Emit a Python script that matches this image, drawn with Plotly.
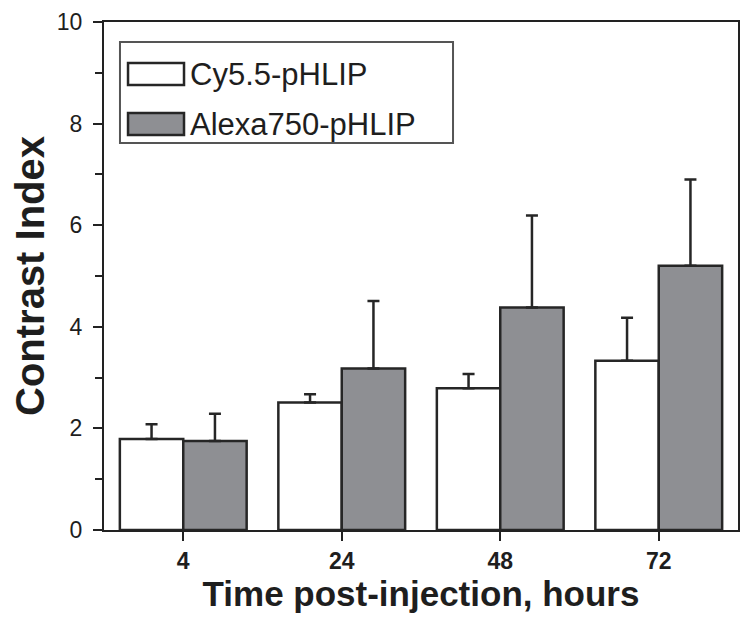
import plotly.graph_objects as go

categories = ["4", "24", "48", "72"]
series_names = ["Cy5.5-pHLIP", "Alexa750-pHLIP"]
cy55_values = [1.79, 2.51, 2.79, 3.33]
cy55_errors = [0.29, 0.16, 0.28, 0.85]
alexa_values = [1.75, 3.18, 4.38, 5.20]
alexa_errors = [0.54, 1.33, 1.81, 1.70]
y_tick_vals = [0, 2, 4, 6, 8, 10]
y_tick_text = ["0", "2", "4", "6", "8", "10"]

FONT = "Liberation Sans, Arial, sans-serif"
EDGE = "#262626"
TXT = "#1e1e1e"
WHITE_FILL = "white"
GRAY_FILL = "#8e8f93"

fig = go.Figure()
fig.add_trace(go.Bar(
    x=categories, y=cy55_values, name=series_names[0],
    marker=dict(color=WHITE_FILL, line=dict(color=EDGE, width=2.5)),
    error_y=dict(type="data", array=cy55_errors, symmetric=False,
                 arrayminus=[0] * len(cy55_errors),
                 color=EDGE, thickness=2.5, width=6),
    showlegend=False,
))
fig.add_trace(go.Bar(
    x=categories, y=alexa_values, name=series_names[1],
    marker=dict(color=GRAY_FILL, line=dict(color=EDGE, width=2.5)),
    error_y=dict(type="data", array=alexa_errors, symmetric=False,
                 arrayminus=[0] * len(alexa_errors),
                 color=EDGE, thickness=2.5, width=6),
    showlegend=False,
))

# Custom legend (box, swatches, labels) in plot-domain coordinates
fig.add_shape(type="rect", xref="x domain", yref="y domain",
              x0=0.0252, x1=0.5505, y0=0.7618, y1=0.9606,
              line=dict(color="#555", width=2), fillcolor="rgba(0,0,0,0)")
legend_rows = [(series_names[0], WHITE_FILL, 0.876, 0.9193, 0.8976),
               (series_names[1], GRAY_FILL, 0.7776, 0.8209, 0.7992)]
for name, fill, y0, y1, yc in legend_rows:
    fig.add_shape(type="rect", xref="x domain", yref="y domain",
                  x0=0.0379, x1=0.1262, y0=y0, y1=y1,
                  line=dict(color=EDGE, width=2.5), fillcolor=fill)
    fig.add_annotation(xref="x domain", yref="y domain", x=0.132, y=yc,
                       xanchor="left", yanchor="middle", showarrow=False,
                       text=name, font=dict(size=31, family=FONT, color=TXT))

fig.update_layout(
    width=743, height=625,
    margin=dict(l=96, r=13, t=14, b=103, autoexpand=False),
    paper_bgcolor="white", plot_bgcolor="white",
    barmode="group", bargap=0.2, bargroupgap=0,
    font=dict(family=FONT, color=TXT),
    showlegend=False,
)
fig.update_xaxes(
    type="category", range=[-0.5, 3.5], automargin=False,
    showline=True, linecolor="#222", linewidth=2, mirror=True,
    ticks="outside", ticklen=9, tickwidth=2, tickcolor="#222",
    tickfont=dict(size=23, family=FONT, color=TXT, weight="bold"),
    title=dict(text="Time post-injection, hours",
               font=dict(size=35, family=FONT, color=TXT, weight="bold"),
               standoff=6),
    showgrid=False, zeroline=False,
)
fig.update_yaxes(
    range=[0, 10], tickvals=y_tick_vals, ticktext=y_tick_text, automargin=True,
    showline=True, linecolor="#222", linewidth=2, mirror=True,
    ticks="outside", ticklen=9, tickwidth=2, tickcolor="#222",
    ticklabelstandoff=6,
    minor=dict(dtick=1, ticks="outside", ticklen=7, tickwidth=2,
               tickcolor="#222", showgrid=False),
    tickfont=dict(size=23, family=FONT, color=TXT),
    title=dict(text="Contrast Index",
               font=dict(size=40, family=FONT, color=TXT, weight="bold"),
               standoff=12),
    showgrid=False, zeroline=False,
)

fig.write_html("out.html")
